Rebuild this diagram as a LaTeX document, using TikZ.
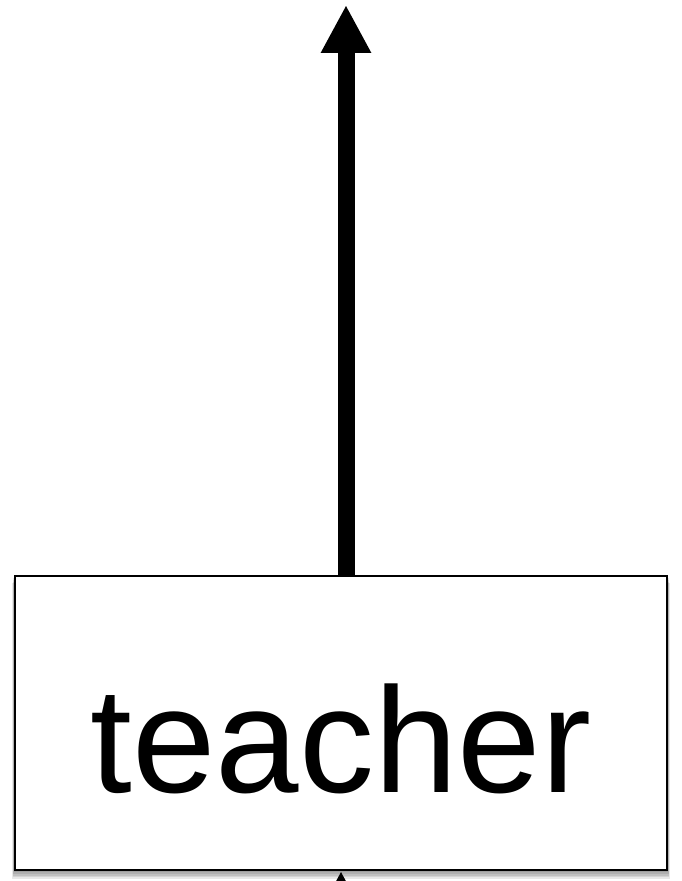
\documentclass[tikz,border=0pt]{standalone}
\usepackage{fontspec}
\setmainfont{Liberation Sans}
\usetikzlibrary{arrows.meta,backgrounds}
\begin{document}
\begin{tikzpicture}[x=1pt,y=1pt,
  boxstyle/.style={draw=black, line width=1.5pt, fill=white, inner sep=0pt,
    minimum width=652pt, minimum height=294pt,
    text height=140pt, text depth=0pt,
    font=\fontsize{150}{150}\selectfont},
  shadowlayer/.style={fill=black, opacity=0.09, draw=none},
  bigarrow/.style={line width=17pt, -{Triangle[width=47pt,length=48pt]}}
]
\useasboundingbox (0,0) rectangle (682,881);
\coordinate (below) at (341,-80);
\coordinate (top) at (346,876);
\node[boxstyle] (teacher) at (341,158) {teacher};
\begin{scope}[on background layer]
  \foreach \i in {1,...,5}{
    \fill[shadowlayer] ([xshift=-0.4*\i pt, yshift=-1.6*\i pt]teacher.south west)
      rectangle ([xshift=0.4*\i pt, yshift=-1.6*\i pt]teacher.north east);
  }
\end{scope}
% arrow arriving from below (only its tip shows)
\draw[bigarrow] (below) -- (341,10);
\draw[bigarrow] ([xshift=5pt]teacher.north) -- (top);
\end{tikzpicture}
\end{document}
